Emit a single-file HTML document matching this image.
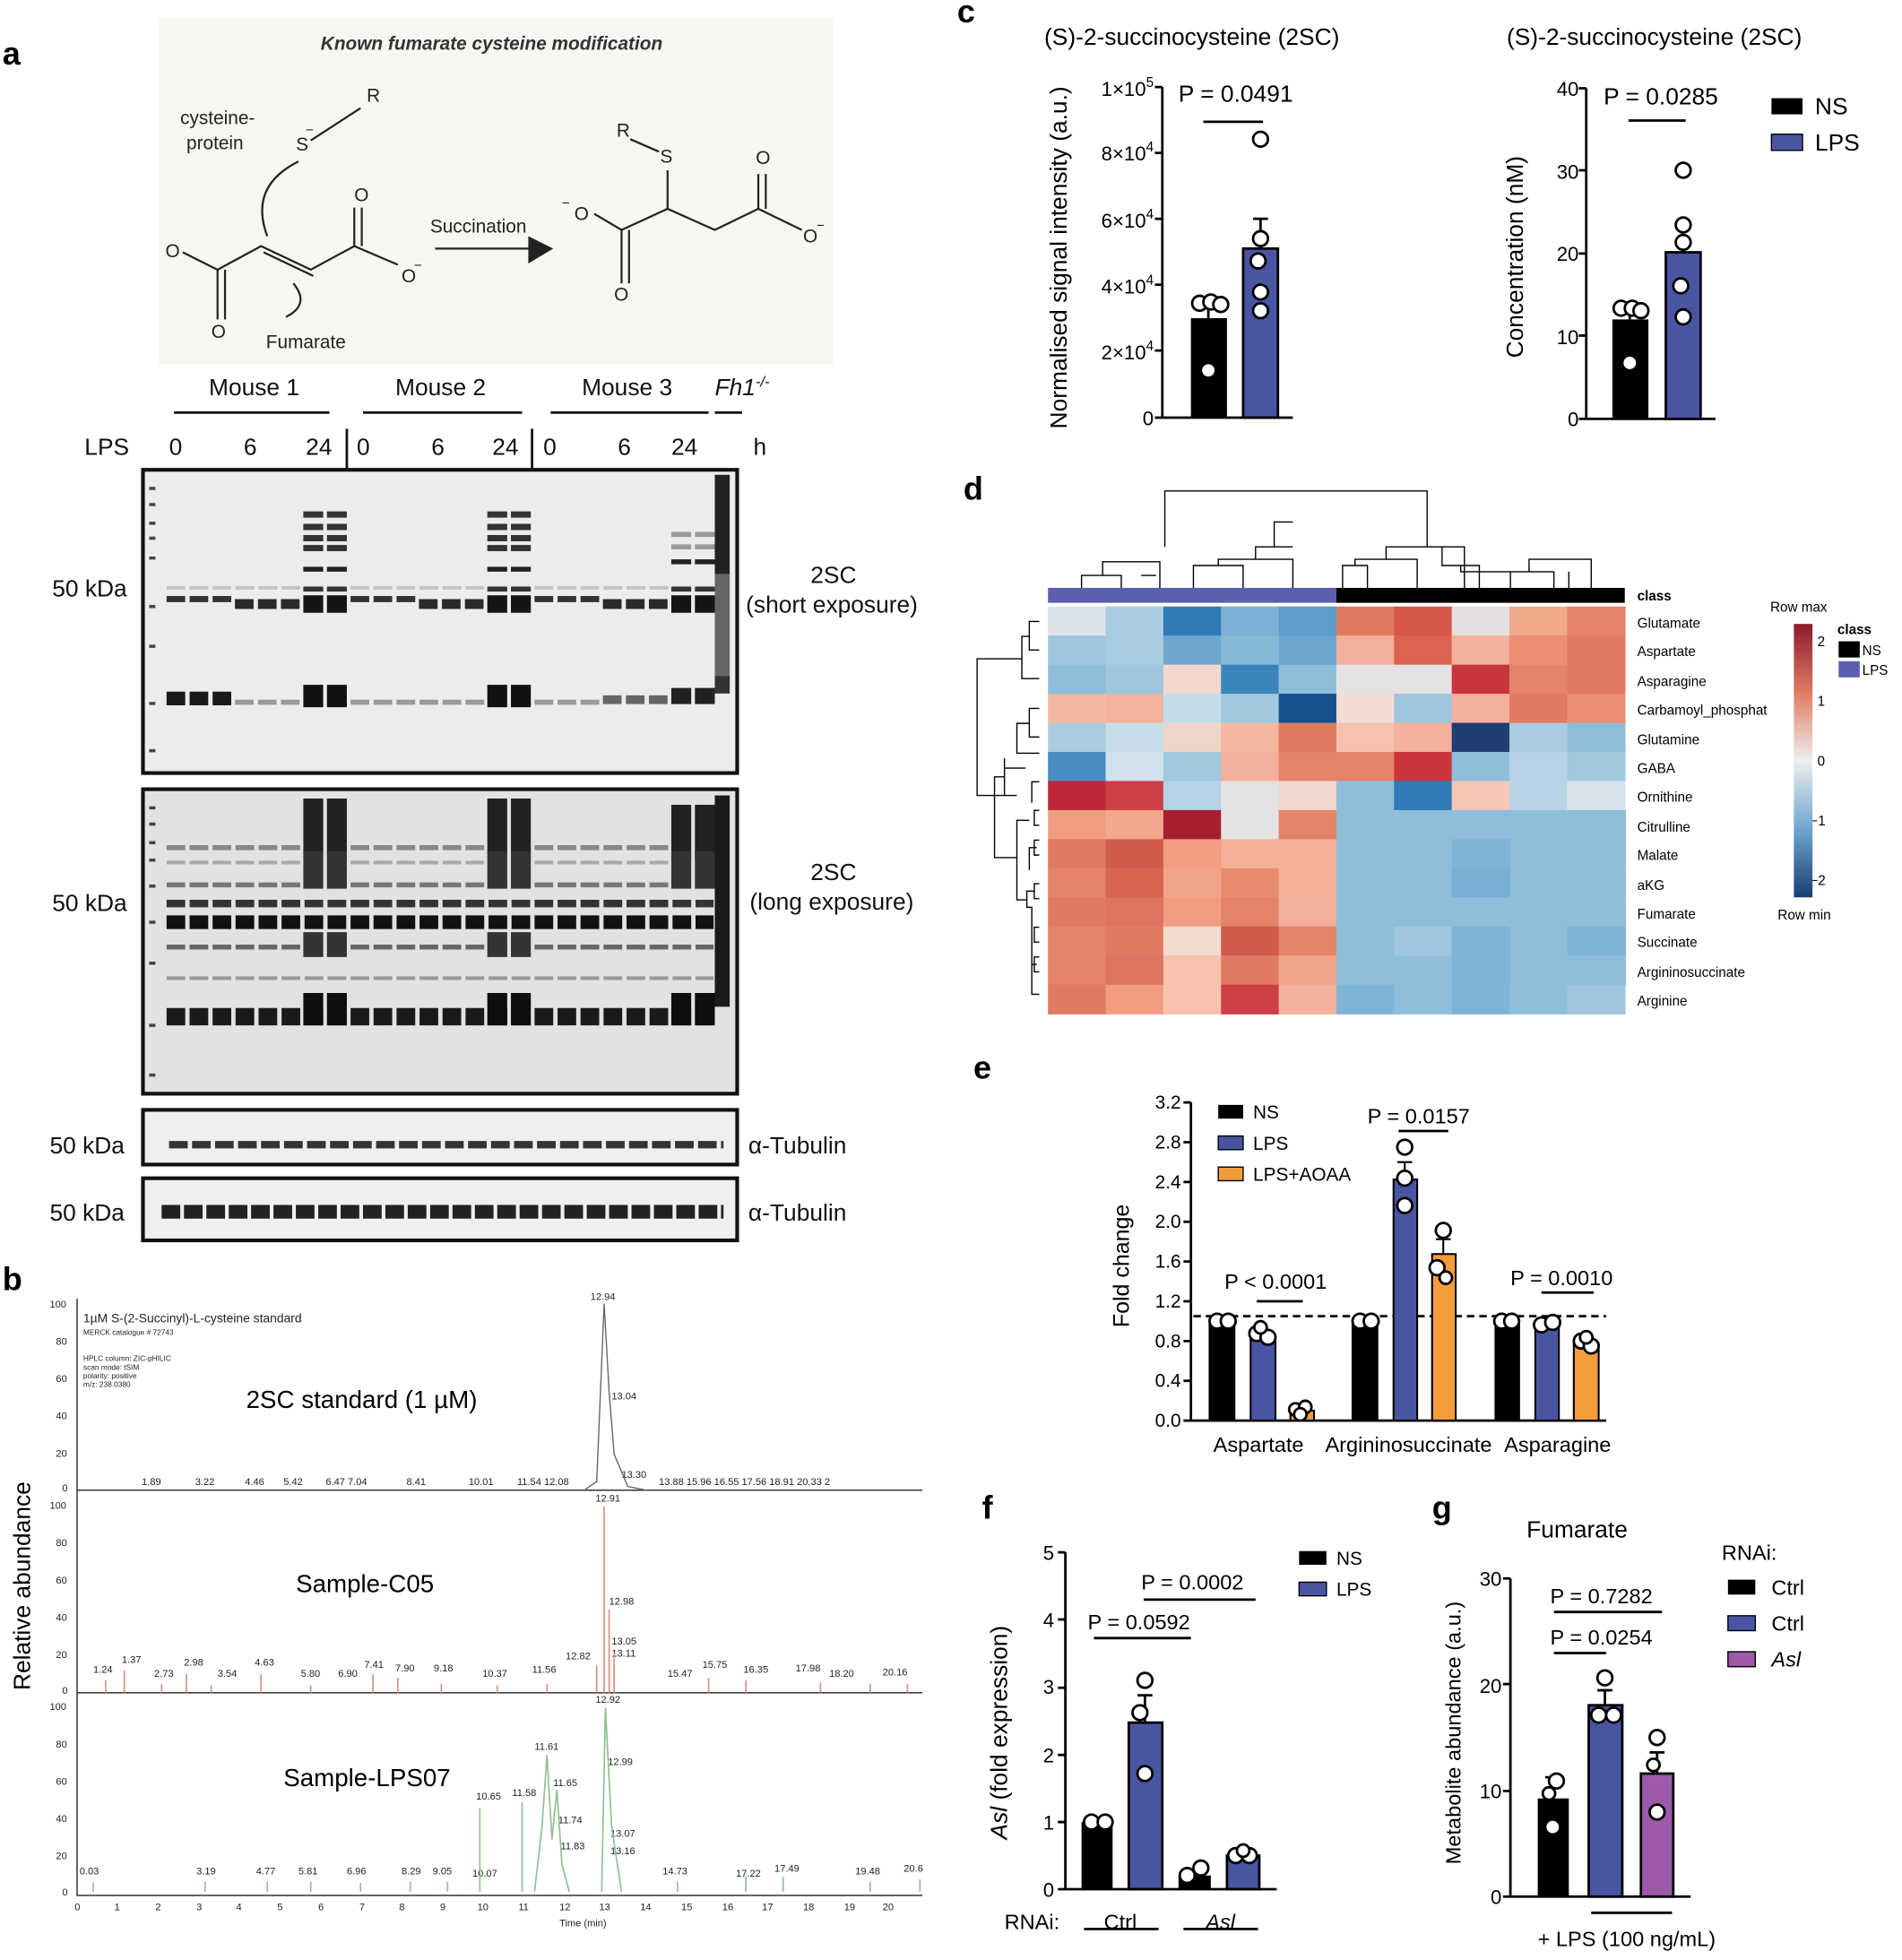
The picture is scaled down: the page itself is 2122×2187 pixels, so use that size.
<!DOCTYPE html>
<html><head><meta charset="utf-8"><style>html,body{margin:0;padding:0;background:#fff}svg{display:block}text{font-family:"Liberation Sans",Arial,sans-serif}</style></head>
<body>
<svg width="2122" height="2187" viewBox="0 0 1530 1577" preserveAspectRatio="none" xmlns="http://www.w3.org/2000/svg">
<rect width="1530" height="1577" fill="#fff"/>
<g font-weight="bold" font-size="26">
<text x="2" y="52">a</text><text x="2" y="1038">b</text><text x="770" y="18">c</text><text x="775" y="402">d</text><text x="783" y="868">e</text><text x="790" y="1222">f</text><text x="1152" y="1222">g</text>
</g>
<!-- scheme -->
<rect x="128" y="15" width="542" height="278" fill="#f8f6f3"/>
<text x="258" y="40" font-size="15" font-style="italic" font-weight="bold" fill="#333">Known fumarate cysteine modification</text>
<g font-size="15" fill="#222">
<text x="145" y="100">cysteine-</text><text x="150" y="120">protein</text>
<text x="295" y="82">R</text><text x="238" y="121">S</text><text x="246" y="108" font-size="11">−</text>
<text x="214" y="280">Fumarate</text><text x="346" y="187">Succination</text>
<text x="133" y="207">O</text><text x="170" y="272">O</text><text x="285" y="162">O</text><text x="323" y="227">O</text><text x="333" y="217" font-size="11">−</text>
<text x="496" y="110">R</text><text x="531" y="131">S</text><text x="462" y="177">O</text><text x="452" y="167" font-size="11">−</text>
<text x="494" y="242">O</text><text x="608" y="132">O</text><text x="646" y="195">O</text><text x="657" y="185" font-size="11">−</text>
</g>
<g stroke="#222" stroke-width="1.6" fill="none">
<path d="M250 113 L290 87"/><path d="M147 203 L175 217 L210 198 L250 217 L285 198 L320 213"/><path d="M212 203 L252 222"/><path d="M175 217 L175 257"/><path d="M181 217 L181 257"/><path d="M285 198 L285 167"/><path d="M291 198 L291 167"/>
<path d="M240 130 Q200 150 215 190"/><path d="M236 228 Q250 245 230 255"/>
<path d="M350 200 L440 200"/><path d="M478 172 L500 185 L537 168 L575 185 L610 168 L645 185"/><path d="M537 168 L537 137"/><path d="M507 112 L530 122"/><path d="M500 185 L500 228"/><path d="M506 185 L506 228"/><path d="M610 168 L610 140"/><path d="M616 168 L616 140"/>
</g>
<path d="M425 190 L445 200 L425 212 Z" fill="#222"/>
<!-- blot headers -->
<g font-size="19" fill="#111">
<text x="168" y="318">Mouse 1</text><text x="318" y="318">Mouse 2</text><text x="468" y="318">Mouse 3</text><text x="575" y="318" font-style="italic">Fh1<tspan font-size="12" dy="-7">-/-</tspan></text>
<text x="68" y="366">LPS</text><text x="136" y="366">0</text><text x="196" y="366">6</text><text x="246" y="366">24</text><text x="287" y="366">0</text><text x="347" y="366">6</text><text x="396" y="366">24</text><text x="437" y="366">0</text><text x="497" y="366">6</text><text x="540" y="366">24</text><text x="606" y="366">h</text>
<text x="42" y="480">50 kDa</text><text x="652" y="469">2SC</text><text x="600" y="493">(short exposure)</text>
<text x="42" y="733">50 kDa</text><text x="652" y="708">2SC</text><text x="603" y="732">(long exposure)</text>
<text x="40" y="928">50 kDa</text><text x="602" y="928">α-Tubulin</text>
<text x="40" y="982">50 kDa</text><text x="602" y="982">α-Tubulin</text>
</g>
<g stroke="#111" stroke-width="2"><path d="M140 332H265M292 332H420M443 332H570M575 332H597M279 345V378M428 345V378"/></g>
<!-- blot1 -->
<rect x="115" y="378" width="478" height="244" fill="#ececec" stroke="#111" stroke-width="3"/>
<g stroke="#444" stroke-width="2.5"><path d="M120 393h5M120 406h5M120 421h5M120 433h5M120 449h5M120 488h5M120 520h5M120 566h5M120 604h5"/></g>
<g fill="none" stroke-dasharray="15 3.5">
<path d="M134 473H574" stroke="#c4c4c4" stroke-width="3"/>
<path d="M134 482H189M282 482H337M430 482H485" stroke="#333" stroke-width="5"/>
<path d="M189 486H244M337 486H392M485 486H540" stroke="#2a2a2a" stroke-width="8"/>
<path d="M244 486H281M392 486H429M540 486H577" stroke="#151515" stroke-width="14" stroke-dasharray="16 3"/>
<path d="M244 414H281M244 424H281M244 433H281M244 441H281M392 414H429M392 424H429M392 433H429M392 441H429" stroke="#333" stroke-width="5" stroke-dasharray="16 3"/>
<path d="M244 458H281M392 458H429M540 452H577" stroke="#222" stroke-width="4" stroke-dasharray="16 3"/>
<path d="M244 474H281M392 474H429M540 474H577" stroke="#333" stroke-width="4" stroke-dasharray="16 3"/>
<path d="M540 430H577M540 440H577" stroke="#999" stroke-width="4" stroke-dasharray="16 3"/>
<path d="M134 562H189" stroke="#1a1a1a" stroke-width="11"/>
<path d="M189 565H244M282 565H392M430 565H485" stroke="#999" stroke-width="4"/>
<path d="M485 563H540" stroke="#666" stroke-width="7"/>
<path d="M244 560H281M392 560H429" stroke="#111" stroke-width="18" stroke-dasharray="16 3"/>
<path d="M540 560H577" stroke="#222" stroke-width="13" stroke-dasharray="16 3"/>
</g>
<rect x="575" y="382" width="12" height="80" fill="#222"/><rect x="575" y="462" width="12" height="90" fill="#666"/><rect x="575" y="544" width="12" height="14" fill="#333"/>
<!-- blot2 -->
<rect x="115" y="635" width="478" height="245" fill="#e2e2e2" stroke="#111" stroke-width="3"/>
<g stroke="#444" stroke-width="2.5"><path d="M120 650h5M120 663h5M120 678h5M120 692h5M120 713h5M120 742h5M120 775h5M120 825h5M120 865h5"/></g>
<g fill="none" stroke-dasharray="15 3.5">
<path d="M134 682H574" stroke="#888" stroke-width="4"/>
<path d="M134 694H574" stroke="#aaa" stroke-width="3"/>
<path d="M134 712H574" stroke="#777" stroke-width="4"/>
<path d="M134 727H574" stroke="#333" stroke-width="6"/>
<path d="M134 742H574" stroke="#111" stroke-width="11"/>
<path d="M134 762H574" stroke="#666" stroke-width="4"/>
<path d="M134 787H574" stroke="#999" stroke-width="3"/>
<path d="M134 818H574" stroke="#1a1a1a" stroke-width="14"/>
<path d="M244 665H281M392 665H429M540 670H577" stroke="#222" stroke-width="45" stroke-dasharray="16 3"/>
<path d="M244 700H281M392 700H429M540 700H577" stroke="#333" stroke-width="30" stroke-dasharray="16 3"/>
<path d="M244 760H281M392 760H429" stroke="#333" stroke-width="20" stroke-dasharray="16 3"/>
<path d="M244 812H281M392 812H429M540 812H577" stroke="#0e0e0e" stroke-width="26" stroke-dasharray="16 3"/>
</g>
<rect x="575" y="640" width="12" height="170" fill="#1a1a1a"/>
<!-- tubulin -->
<rect x="115" y="893" width="478" height="44" fill="#efefef" stroke="#111" stroke-width="3"/>
<path d="M136 921H582" stroke="#333" stroke-width="6" stroke-dasharray="15 3.5"/>
<rect x="115" y="948" width="478" height="50" fill="#efefef" stroke="#111" stroke-width="3"/>
<path d="M130 975H582" stroke="#222" stroke-width="11" stroke-dasharray="15 3"/>
<!-- chromatograms -->
<text transform="translate(24,1360) rotate(-90)" font-size="19">Relative abundance</text>
<g stroke="#222" stroke-width="1" fill="none"><path d="M62 1045V1525H742"/><path d="M62 1199H742M62 1362H742"/></g>
<g font-size="8" fill="#222">
<text x="40" y="1052">100</text><text x="45" y="1082">80</text><text x="45" y="1112">60</text><text x="45" y="1142">40</text><text x="45" y="1172">20</text><text x="50" y="1200">0</text>
<text x="40" y="1214">100</text><text x="45" y="1244">80</text><text x="45" y="1274">60</text><text x="45" y="1304">40</text><text x="45" y="1334">20</text><text x="50" y="1363">0</text>
<text x="40" y="1376">100</text><text x="45" y="1406">80</text><text x="45" y="1436">60</text><text x="45" y="1466">40</text><text x="45" y="1496">20</text><text x="50" y="1525">0</text>
<text x="60" y="1537">0</text><text x="92" y="1537">1</text><text x="125" y="1537">2</text><text x="158" y="1537">3</text><text x="190" y="1537">4</text><text x="223" y="1537">5</text><text x="256" y="1537">6</text><text x="289" y="1537">7</text><text x="321" y="1537">8</text><text x="354" y="1537">9</text><text x="384" y="1537">10</text><text x="417" y="1537">11</text><text x="450" y="1537">12</text><text x="482" y="1537">13</text><text x="515" y="1537">14</text><text x="548" y="1537">15</text><text x="581" y="1537">16</text><text x="613" y="1537">17</text><text x="646" y="1537">18</text><text x="679" y="1537">19</text><text x="710" y="1537">20</text>
<text x="450" y="1550">Time (min)</text>
<text x="67" y="1064" font-size="10">1µM S-(2-Succinyl)-L-cysteine standard</text><text x="67" y="1074" font-size="6">MERCK catalogue # 72743</text>
<text x="67" y="1095" font-size="6">HPLC column: ZIC-pHILIC</text><text x="67" y="1102" font-size="6">scan mode: tSIM</text><text x="67" y="1109" font-size="6">polarity: positive</text><text x="67" y="1116" font-size="6">m/z: 238.0380</text>
<text x="475" y="1046">12.94</text><text x="492" y="1126">13.04</text><text x="500" y="1189">13.30</text>
<text x="114" y="1195">1.89</text><text x="157" y="1195">3.22</text><text x="197" y="1195">4.46</text><text x="228" y="1195">5.42</text><text x="262" y="1195">6.47 7.04</text><text x="327" y="1195">8.41</text><text x="377" y="1195">10.01</text><text x="416" y="1195">11.54 12.08</text><text x="530" y="1195">13.88 15.96 16.55 17.56 18.91 20.33 2</text>
<text x="479" y="1208">12.91</text><text x="490" y="1291">12.98</text><text x="492" y="1323">13.05</text><text x="492" y="1333">13.11</text><text x="455" y="1335">12.82</text>
<text x="75" y="1346">1.24</text><text x="98" y="1338">1.37</text><text x="124" y="1349">2.73</text><text x="148" y="1340">2.98</text><text x="175" y="1349">3.54</text><text x="205" y="1340">4.63</text><text x="242" y="1349">5.80</text><text x="272" y="1349">6.90</text><text x="293" y="1342">7.41</text><text x="318" y="1345">7.90</text><text x="349" y="1345">9.18</text><text x="388" y="1349">10.37</text><text x="428" y="1346">11.56</text><text x="537" y="1349">15.47</text><text x="565" y="1342">15.75</text><text x="598" y="1346">16.35</text><text x="640" y="1345">17.98</text><text x="667" y="1349">18.20</text><text x="710" y="1348">20.16</text>
<text x="479" y="1370">12.92</text><text x="430" y="1408">11.61</text><text x="489" y="1420">12.99</text><text x="445" y="1437">11.65</text><text x="383" y="1448">10.65</text><text x="412" y="1445">11.58</text><text x="449" y="1467">11.74</text><text x="451" y="1488">11.83</text><text x="491" y="1478">13.07</text><text x="491" y="1492">13.16</text>
<text x="64" y="1508">0.03</text><text x="158" y="1508">3.19</text><text x="206" y="1508">4.77</text><text x="240" y="1508">5.81</text><text x="279" y="1508">6.96</text><text x="323" y="1508">8.29</text><text x="348" y="1508">9.05</text><text x="380" y="1510">10.07</text><text x="533" y="1508">14.73</text><text x="592" y="1510">17.22</text><text x="623" y="1506">17.49</text><text x="688" y="1508">19.48</text><text x="727" y="1506">20.6</text>
</g>
<g font-size="20"><text x="198" y="1133">2SC standard (1 µM)</text><text x="238" y="1281">Sample-C05</text><text x="228" y="1437">Sample-LPS07</text></g>
<path d="M470 1199 L480 1192 L486 1049 L490 1120 L494 1170 L505 1196 L520 1199" stroke="#666" fill="none"/>
<g stroke="#d99080" stroke-width="1.2"><path d="M486 1362V1212M490 1362V1295M494 1362V1330M480 1362V1340M85 1362V1352M100 1362V1344M150 1362V1347M210 1362V1347M300 1362V1347M320 1362V1350M570 1362V1350M600 1362V1352M130 1362V1355M170 1362V1356M250 1362V1356M355 1362V1355M400 1362V1356M440 1362V1355M660 1362V1354M700 1362V1355M730 1362V1355"/></g>
<g stroke="#8fc08f" stroke-width="1.2" fill="none"><path d="M430 1522 L436 1470 L440 1412 L444 1480 L448 1440 L452 1500 L458 1522"/><path d="M484 1522 L487 1374 L492 1470 L500 1522"/><path d="M386 1522V1455M420 1522V1450M600 1522V1510M630 1522V1510M75 1522V1515M165 1522V1514M215 1522V1514M250 1522V1514M290 1522V1515M330 1522V1514M360 1522V1514M545 1522V1514M700 1522V1514M740 1522V1512"/></g>
<!-- panel c -->
<g font-size="19"><text x="840" y="36">(S)-2-succinocysteine (2SC)</text><text x="1212" y="36">(S)-2-succinocysteine (2SC)</text>
<text transform="translate(858,345) rotate(-90)">Normalised signal intensity (a.u.)</text><text transform="translate(1225,288) rotate(-90)">Concentration (nM)</text>
<text x="948" y="82">P = 0.0491</text><text x="1290" y="84">P = 0.0285</text><text x="1460" y="92">NS</text><text x="1460" y="121">LPS</text></g>
<rect x="1425" y="79" width="25" height="13" fill="#000"/><rect x="1425" y="108" width="25" height="13" fill="#4a55a2" stroke="#000"/>
<g font-size="16" text-anchor="end"><text x="928" y="342">0</text><text x="928" y="289">2×10<tspan font-size="11" dy="-7">4</tspan></text><text x="928" y="236">4×10<tspan font-size="11" dy="-7">4</tspan></text><text x="928" y="183">6×10<tspan font-size="11" dy="-7">4</tspan></text><text x="928" y="129">8×10<tspan font-size="11" dy="-7">4</tspan></text><text x="928" y="77">1×10<tspan font-size="11" dy="-7">5</tspan></text>
<text x="1270" y="343">0</text><text x="1270" y="277">10</text><text x="1270" y="210">20</text><text x="1270" y="144">30</text><text x="1270" y="77">40</text></g>
<g stroke="#000" stroke-width="2" fill="none"><path d="M935 70V336H1040M929 70H935M929 123H935M929 176H935M929 229H935M929 282H935M929 336H935"/><path d="M1276 71V337H1380M1270 71H1276M1270 137H1276M1270 204H1276M1270 270H1276M1270 337H1276"/><path d="M968 98H1016M1310 97H1356"/></g>
<rect x="958" y="256" width="29" height="80" fill="#000"/><rect x="1000" y="200" width="28" height="136" fill="#4a55a2" stroke="#000" stroke-width="2"/>
<rect x="1297" y="257" width="29" height="80" fill="#000"/><rect x="1340" y="203" width="28" height="134" fill="#4a55a2" stroke="#000" stroke-width="2"/>
<g stroke="#000" stroke-width="2" fill="none"><path d="M972 256V240M966 240H978M1014 200V176M1008 176H1020M1311 257V245M1305 245H1317M1354 203V182M1348 182H1360"/></g>
<g fill="#fff" stroke="#000" stroke-width="2"><circle cx="965" cy="244" r="6"/><circle cx="974" cy="243" r="6"/><circle cx="982" cy="245" r="6"/><circle cx="972" cy="298" r="6"/><circle cx="1014" cy="112" r="6"/><circle cx="1014" cy="192" r="6"/><circle cx="1012" cy="210" r="6"/><circle cx="1014" cy="235" r="6"/><circle cx="1014" cy="250" r="6"/>
<circle cx="1304" cy="248" r="6"/><circle cx="1313" cy="248" r="6"/><circle cx="1320" cy="250" r="6"/><circle cx="1311" cy="292" r="6"/><circle cx="1354" cy="137" r="6"/><circle cx="1354" cy="181" r="6"/><circle cx="1354" cy="195" r="6"/><circle cx="1352" cy="230" r="6"/><circle cx="1354" cy="255" r="6"/></g>
<!-- panel d heatmap -->
<g stroke="#000" stroke-width="1" fill="none"><path d="M870 473V463H902V473M887 463V452H933V473M918 463H930M960 473V455H1000V473M980 455V450H1040V473M1010 450V440H1040M1025 440V420H1040M937 440V395H1148V440M1080 473V455H1100V473M1090 455V450H1140V473M1115 450V440H1178V473M1148 440H1178M1160 440V455H1190V473M1175 455V460H1250M1215 460V473M1250 460V473M1230 460V450H1280V473M1262 460V473"/>
<path d="M836 500H828V523H836M828 512H822V546H836M836 570H828V593H836M828 582H818V606H836M836 629H830V646M825 618H808V640M808 610V640H786V530H820V530M820 530H822V512M836 652H832V664H836M836 676H832V688H836M834 682H828V700M836 711H832V723H836M836 746H832V758H836M836 770H832V782H836M834 776H830V800H836M832 717H826V730H830V790M826 724H818V660H828M818 640H808M808 625H800V690H818"/></g>
<rect x="843" y="473" width="232" height="12" fill="#5b5fb0"/><rect x="1075" y="473" width="232" height="12" fill="#000"/>
<g font-size="11"><text x="1317" y="483" font-weight="bold">class</text><text x="1317" y="505">Glutamate</text><text x="1317" y="528">Aspartate</text><text x="1317" y="552">Asparagine</text><text x="1317" y="575">Carbamoyl_phosphat</text><text x="1317" y="599">Glutamine</text><text x="1317" y="622">GABA</text><text x="1317" y="645">Ornithine</text><text x="1317" y="669">Citrulline</text><text x="1317" y="692">Malate</text><text x="1317" y="716">aKG</text><text x="1317" y="739">Fumarate</text><text x="1317" y="762">Succinate</text><text x="1317" y="786">Argininosuccinate</text><text x="1317" y="809">Arginine</text>
<text x="1424" y="492">Row max</text><text x="1430" y="740">Row min</text><text x="1462" y="520">2</text><text x="1462" y="568">1</text><text x="1462" y="616">0</text><text x="1456" y="664">−1</text><text x="1456" y="712">−2</text>
<text x="1478" y="510" font-weight="bold">class</text><text x="1498" y="527">NS</text><text x="1498" y="543">LPS</text></g>
<rect x="1479" y="516" width="17" height="13" fill="#000"/><rect x="1479" y="532" width="17" height="13" fill="#5b5fb0"/>
<defs><linearGradient id="cb" x1="0" y1="0" x2="0" y2="1"><stop offset="0" stop-color="#8b1a2e"/><stop offset="0.25" stop-color="#e07b62"/><stop offset="0.5" stop-color="#eeeeee"/><stop offset="0.75" stop-color="#6ea6cf"/><stop offset="1" stop-color="#1a3e72"/></linearGradient></defs>
<rect x="1443" y="502" width="15" height="220" fill="url(#cb)"/>
<g transform="translate(843,488)">
<g><rect x="0" width="47" height="24" fill="#dde3ea"/><rect x="46.4" width="47" height="24" fill="#a9cce0"/><rect x="92.8" width="47" height="24" fill="#2e7bb8"/><rect x="139.2" width="47" height="24" fill="#7fb0d5"/><rect x="185.6" width="47" height="24" fill="#5e9cca"/><rect x="232" width="47" height="24" fill="#e07b62"/><rect x="278.4" width="47" height="24" fill="#d6584a"/><rect x="324.8" width="47" height="24" fill="#e3e0df"/><rect x="371.2" width="47" height="24" fill="#f1a98b"/><rect x="417.6" width="47" height="24" fill="#e58368"/></g>
<g transform="translate(0,23.4)"><rect x="0" width="47" height="24" fill="#9ec6de"/><rect x="46.4" width="47" height="24" fill="#a8cde1"/><rect x="92.8" width="47" height="24" fill="#6ea6cf"/><rect x="139.2" width="47" height="24" fill="#88b9d8"/><rect x="185.6" width="47" height="24" fill="#6ea6cf"/><rect x="232" width="47" height="24" fill="#f3b09a"/><rect x="278.4" width="47" height="24" fill="#db6350"/><rect x="324.8" width="47" height="24" fill="#f3b09a"/><rect x="371.2" width="47" height="24" fill="#eb8f74"/><rect x="417.6" width="47" height="24" fill="#e07b62"/></g>
<g transform="translate(0,46.8)"><rect x="0" width="47" height="24" fill="#8fbedb"/><rect x="46.4" width="47" height="24" fill="#9ec6de"/><rect x="92.8" width="47" height="24" fill="#f2d8cc"/><rect x="139.2" width="47" height="24" fill="#3b85bd"/><rect x="185.6" width="47" height="24" fill="#8fbedb"/><rect x="232" width="47" height="24" fill="#e4e2e2"/><rect x="278.4" width="47" height="24" fill="#e4e2e2"/><rect x="324.8" width="47" height="24" fill="#c9353a"/><rect x="371.2" width="47" height="24" fill="#e58368"/><rect x="417.6" width="47" height="24" fill="#e07b62"/></g>
<g transform="translate(0,70.2)"><rect x="0" width="47" height="24" fill="#f4b7a0"/><rect x="46.4" width="47" height="24" fill="#f2b39c"/><rect x="92.8" width="47" height="24" fill="#c4dce9"/><rect x="139.2" width="47" height="24" fill="#a0c8df"/><rect x="185.6" width="47" height="24" fill="#17508f"/><rect x="232" width="47" height="24" fill="#f3ddd3"/><rect x="278.4" width="47" height="24" fill="#9ec6de"/><rect x="324.8" width="47" height="24" fill="#f3b09a"/><rect x="371.2" width="47" height="24" fill="#e07b62"/><rect x="417.6" width="47" height="24" fill="#eb8f74"/></g>
<g transform="translate(0,93.6)"><rect x="0" width="47" height="24" fill="#a9cce0"/><rect x="46.4" width="47" height="24" fill="#c8dde9"/><rect x="92.8" width="47" height="24" fill="#eed5ca"/><rect x="139.2" width="47" height="24" fill="#f4b7a0"/><rect x="185.6" width="47" height="24" fill="#e07b62"/><rect x="232" width="47" height="24" fill="#f6c2ad"/><rect x="278.4" width="47" height="24" fill="#f3b09a"/><rect x="324.8" width="47" height="24" fill="#1f3e72"/><rect x="371.2" width="47" height="24" fill="#a9cce0"/><rect x="417.6" width="47" height="24" fill="#8fbedb"/></g>
<g transform="translate(0,117)"><rect x="0" width="47" height="24" fill="#4a8dc4"/><rect x="46.4" width="47" height="24" fill="#d2e2ec"/><rect x="92.8" width="47" height="24" fill="#a0c8df"/><rect x="139.2" width="47" height="24" fill="#f3b09a"/><rect x="185.6" width="47" height="24" fill="#e58368"/><rect x="232" width="47" height="24" fill="#e58368"/><rect x="278.4" width="47" height="24" fill="#c9353a"/><rect x="324.8" width="47" height="24" fill="#8fbedb"/><rect x="371.2" width="47" height="24" fill="#b7d3e5"/><rect x="417.6" width="47" height="24" fill="#a0c8df"/></g>
<g transform="translate(0,140.4)"><rect x="0" width="47" height="24" fill="#c0283a"/><rect x="46.4" width="47" height="24" fill="#cc4045"/><rect x="92.8" width="47" height="24" fill="#b7d3e5"/><rect x="139.2" width="47" height="24" fill="#e4e2e2"/><rect x="185.6" width="47" height="24" fill="#efd9cf"/><rect x="232" width="47" height="24" fill="#8fbedb"/><rect x="278.4" width="47" height="24" fill="#2e7bb8"/><rect x="324.8" width="47" height="24" fill="#f6c7b5"/><rect x="371.2" width="47" height="24" fill="#b7d3e5"/><rect x="417.6" width="47" height="24" fill="#d7e3eb"/></g>
<g transform="translate(0,163.8)"><rect x="0" width="47" height="24" fill="#f09d82"/><rect x="46.4" width="47" height="24" fill="#f3a88e"/><rect x="92.8" width="47" height="24" fill="#a81f32"/><rect x="139.2" width="47" height="24" fill="#e4e2e2"/><rect x="185.6" width="47" height="24" fill="#e58368"/><rect x="232" width="233" height="24" fill="#8fbedb"/></g>
<g transform="translate(0,187.2)"><rect x="0" width="47" height="24" fill="#e07b62"/><rect x="46.4" width="47" height="24" fill="#d05a4c"/><rect x="92.8" width="47" height="24" fill="#f09d82"/><rect x="139.2" width="47" height="24" fill="#f4b096"/><rect x="185.6" width="47" height="24" fill="#f4b096"/><rect x="232" width="233" height="24" fill="#8fbedb"/><rect x="324.8" width="47" height="24" fill="#80b4d6"/></g>
<g transform="translate(0,210.6)"><rect x="0" width="47" height="24" fill="#e58368"/><rect x="46.4" width="47" height="24" fill="#d86450"/><rect x="92.8" width="47" height="24" fill="#f1a48a"/><rect x="139.2" width="47" height="24" fill="#e88c70"/><rect x="185.6" width="47" height="24" fill="#f4b096"/><rect x="232" width="233" height="24" fill="#8fbedb"/><rect x="324.8" width="47" height="24" fill="#7aafd4"/></g>
<g transform="translate(0,234)"><rect x="0" width="47" height="24" fill="#e07b62"/><rect x="46.4" width="47" height="24" fill="#dd7360"/><rect x="92.8" width="47" height="24" fill="#f09d82"/><rect x="139.2" width="47" height="24" fill="#e58368"/><rect x="185.6" width="47" height="24" fill="#f3b09a"/><rect x="232" width="233" height="24" fill="#8fbedb"/></g>
<g transform="translate(0,257.4)"><rect x="0" width="47" height="24" fill="#e58368"/><rect x="46.4" width="47" height="24" fill="#e07b62"/><rect x="92.8" width="47" height="24" fill="#f3dbd0"/><rect x="139.2" width="47" height="24" fill="#d05a4c"/><rect x="185.6" width="47" height="24" fill="#e58368"/><rect x="232" width="233" height="24" fill="#8fbedb"/><rect x="278.4" width="47" height="24" fill="#9ec6de"/><rect x="324.8" width="47" height="24" fill="#80b4d6"/><rect x="417.6" width="47" height="24" fill="#80b4d6"/></g>
<g transform="translate(0,280.8)"><rect x="0" width="47" height="24" fill="#e58368"/><rect x="46.4" width="47" height="24" fill="#dd7360"/><rect x="92.8" width="47" height="24" fill="#f6c2ad"/><rect x="139.2" width="47" height="24" fill="#e07b62"/><rect x="185.6" width="47" height="24" fill="#f1a48a"/><rect x="232" width="233" height="24" fill="#8fbedb"/><rect x="324.8" width="47" height="24" fill="#80b4d6"/></g>
<g transform="translate(0,304.2)"><rect x="0" width="47" height="24" fill="#e07b62"/><rect x="46.4" width="47" height="24" fill="#f09d82"/><rect x="92.8" width="47" height="24" fill="#f6c2ad"/><rect x="139.2" width="47" height="24" fill="#cc4045"/><rect x="185.6" width="47" height="24" fill="#f3b09a"/><rect x="232" width="47" height="24" fill="#80b4d6"/><rect x="278.4" width="47" height="24" fill="#8fbedb"/><rect x="324.8" width="47" height="24" fill="#80b4d6"/><rect x="371.2" width="47" height="24" fill="#8fbedb"/><rect x="417.6" width="47" height="24" fill="#9ec6de"/></g>
</g>
<!-- panel e -->
<text transform="translate(908,1068) rotate(-90)" font-size="18">Fold change</text>
<g font-size="15" text-anchor="end"><text x="950" y="1148">0.0</text><text x="950" y="1116">0.4</text><text x="950" y="1084">0.8</text><text x="950" y="1052">1.2</text><text x="950" y="1020">1.6</text><text x="950" y="988">2.0</text><text x="950" y="956">2.4</text><text x="950" y="924">2.8</text><text x="950" y="892">3.2</text></g>
<g stroke="#000" stroke-width="2" fill="none"><path d="M958 887V1143H1292M952 887H958M952 919H958M952 951H958M952 983H958M952 1015H958M952 1047H958M952 1079H958M952 1111H958M952 1143H958"/><path d="M1011 1047H1048M1125 910H1165M1240 1040H1282"/></g>
<path d="M960 1059H1292" stroke="#000" stroke-width="2" stroke-dasharray="6,4"/>
<g stroke="#000" stroke-width="1.5"><rect x="973" y="1063" width="20" height="80" fill="#000"/><rect x="1006" y="1074" width="20" height="69" fill="#4a55a2"/><rect x="1038" y="1135" width="19" height="8" fill="#f39c3c"/>
<rect x="1088" y="1063" width="20" height="80" fill="#000"/><rect x="1121" y="949" width="19" height="194" fill="#4a55a2"/><rect x="1152" y="1009" width="19" height="134" fill="#f39c3c"/>
<rect x="1203" y="1063" width="19" height="80" fill="#000"/><rect x="1235" y="1065" width="19" height="78" fill="#4a55a2"/><rect x="1266" y="1081" width="20" height="62" fill="#f39c3c"/>
<path d="M1130 949V935M1124 935H1136M1161 1009V997M1155 997H1167" fill="none"/></g>
<g fill="#fff" stroke="#000" stroke-width="2"><circle cx="979" cy="1063" r="6"/><circle cx="988" cy="1063" r="6"/><circle cx="1011" cy="1073" r="6"/><circle cx="1020" cy="1076" r="6"/><circle cx="1014" cy="1068" r="5"/><circle cx="1042" cy="1134" r="5"/><circle cx="1050" cy="1132" r="5"/><circle cx="1046" cy="1138" r="5"/>
<circle cx="1094" cy="1063" r="6"/><circle cx="1103" cy="1063" r="6"/><circle cx="1130" cy="923" r="6"/><circle cx="1130" cy="948" r="6"/><circle cx="1130" cy="970" r="6"/><circle cx="1161" cy="990" r="6"/><circle cx="1156" cy="1020" r="6"/><circle cx="1163" cy="1028" r="5"/>
<circle cx="1208" cy="1063" r="6"/><circle cx="1216" cy="1063" r="6"/><circle cx="1240" cy="1066" r="6"/><circle cx="1249" cy="1064" r="6"/><circle cx="1272" cy="1079" r="6"/><circle cx="1280" cy="1083" r="6"/><circle cx="1276" cy="1076" r="5"/></g>
<g font-size="17"><text x="985" y="1037">P &lt; 0.0001</text><text x="1100" y="904">P = 0.0157</text><text x="1215" y="1034">P = 0.0010</text>
<text x="976" y="1168">Aspartate</text><text x="1066" y="1168">Argininosuccinate</text><text x="1210" y="1168">Asparagine</text>
<text x="1008" y="900" font-size="15">NS</text><text x="1008" y="925" font-size="15">LPS</text><text x="1008" y="950" font-size="15">LPS+AOAA</text></g>
<rect x="980" y="889" width="20" height="11" fill="#000"/><rect x="980" y="914" width="20" height="11" fill="#4a55a2" stroke="#000"/><rect x="980" y="939" width="20" height="11" fill="#f39c3c" stroke="#000"/>
<!-- panel f -->
<text transform="translate(810,1480) rotate(-90)" font-size="19"><tspan font-style="italic">Asl</tspan> (fold expression)</text>
<g font-size="16" text-anchor="end"><text x="848" y="1526">0</text><text x="848" y="1472">1</text><text x="848" y="1418">2</text><text x="848" y="1363">3</text><text x="848" y="1309">4</text><text x="848" y="1255">5</text></g>
<g stroke="#000" stroke-width="2" fill="none"><path d="M857 1249V1520H1027M851 1249H857M851 1303H857M851 1358H857M851 1412H857M851 1466H857M851 1520H857"/><path d="M880 1318H958M920 1287H1010M872 1552H932M952 1552H1012"/></g>
<rect x="870" y="1466" width="25" height="54" fill="#000"/><rect x="908" y="1386" width="27" height="134" fill="#4a55a2" stroke="#000" stroke-width="2"/><rect x="948" y="1509" width="26" height="11" fill="#000"/><rect x="987" y="1493" width="26" height="27" fill="#4a55a2" stroke="#000" stroke-width="2"/>
<path d="M921 1386V1364M915 1364H927" stroke="#000" stroke-width="2"/>
<g fill="#fff" stroke="#000" stroke-width="2"><circle cx="878" cy="1466" r="6"/><circle cx="889" cy="1466" r="6"/><circle cx="921" cy="1352" r="6"/><circle cx="917" cy="1378" r="6"/><circle cx="921" cy="1427" r="6"/><circle cx="955" cy="1509" r="6"/><circle cx="966" cy="1503" r="6"/><circle cx="994" cy="1493" r="6"/><circle cx="1005" cy="1493" r="6"/><circle cx="1000" cy="1489" r="5"/></g>
<g font-size="17"><text x="875" y="1311">P = 0.0592</text><text x="918" y="1279">P = 0.0002</text><text x="808" y="1552">RNAi:</text><text x="888" y="1552">Ctrl</text><text x="970" y="1552" font-style="italic">Asl</text>
<text x="1075" y="1259" font-size="15">NS</text><text x="1075" y="1284" font-size="15">LPS</text></g>
<rect x="1045" y="1248" width="22" height="11" fill="#000"/><rect x="1045" y="1273" width="22" height="11" fill="#4a55a2" stroke="#000"/>
<!-- panel g -->
<text x="1228" y="1237" font-size="19">Fumarate</text>
<text transform="translate(1175,1500) rotate(-90)" font-size="17">Metabolite abundance (a.u.)</text>
<g font-size="16" text-anchor="end"><text x="1208" y="1532">0</text><text x="1208" y="1447">10</text><text x="1208" y="1362">20</text><text x="1208" y="1276">30</text></g>
<g stroke="#000" stroke-width="2" fill="none"><path d="M1215 1270V1526H1360M1209 1270H1215M1209 1355H1215M1209 1441H1215M1209 1526H1215"/><path d="M1250 1297H1337M1250 1330H1292M1280 1539H1345"/></g>
<rect x="1237" y="1447" width="25" height="79" fill="#000"/><rect x="1278" y="1372" width="27" height="154" fill="#4a55a2" stroke="#000" stroke-width="2"/><rect x="1320" y="1427" width="26" height="99" fill="#9c5aa8" stroke="#000" stroke-width="2"/>
<path d="M1249 1447V1430M1243 1430H1255M1291 1372V1360M1285 1360H1297M1333 1427V1410M1327 1410H1339" stroke="#000" stroke-width="2"/>
<g fill="#fff" stroke="#000" stroke-width="2"><circle cx="1252" cy="1433" r="6"/><circle cx="1246" cy="1443" r="5"/><circle cx="1249" cy="1470" r="6"/><circle cx="1286" cy="1380" r="6"/><circle cx="1298" cy="1380" r="6"/><circle cx="1291" cy="1350" r="6"/><circle cx="1333" cy="1398" r="6"/><circle cx="1330" cy="1420" r="5"/><circle cx="1333" cy="1458" r="6"/></g>
<g font-size="17"><text x="1247" y="1290">P = 0.7282</text><text x="1247" y="1323">P = 0.0254</text><text x="1237" y="1566">+ LPS (100 ng/mL)</text>
<text x="1385" y="1255">RNAi:</text><text x="1425" y="1283">Ctrl</text><text x="1425" y="1312">Ctrl</text><text x="1425" y="1341" font-style="italic">Asl</text></g>
<rect x="1390" y="1271" width="22" height="12" fill="#000"/><rect x="1390" y="1300" width="22" height="12" fill="#4a55a2" stroke="#000"/><rect x="1390" y="1329" width="22" height="12" fill="#9c5aa8" stroke="#000"/>
</svg>
</body></html>
